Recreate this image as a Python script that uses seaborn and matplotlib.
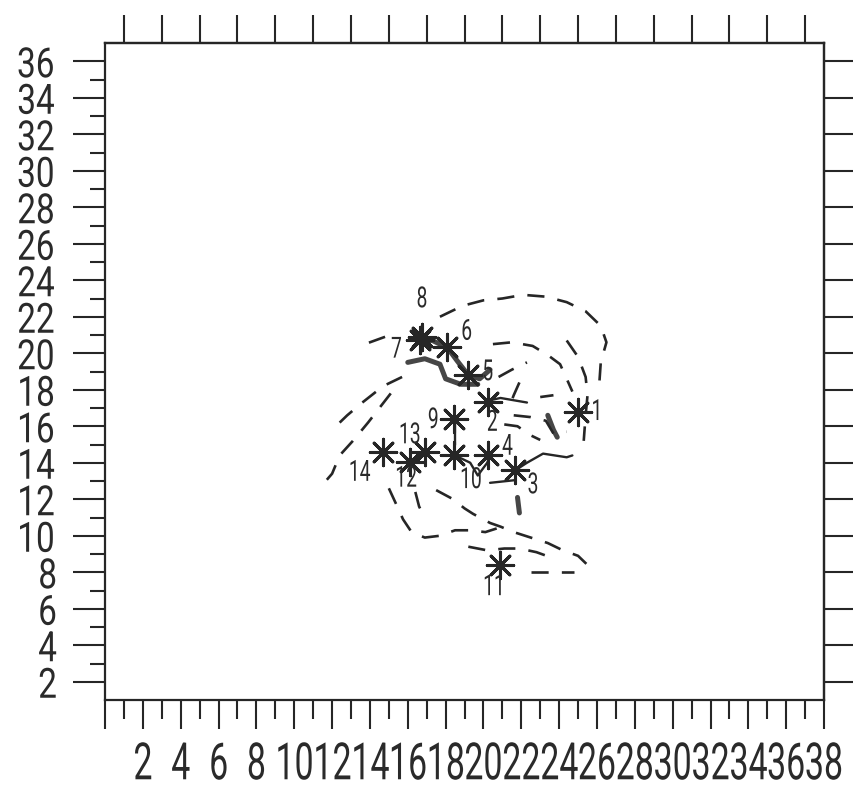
import matplotlib
matplotlib.use("Agg")
import matplotlib.pyplot as plt
import seaborn as sns
from matplotlib.patheffects import AbstractPathEffect
from matplotlib.transforms import Affine2D

# ---------------- data ----------------
station_ids = ["1", "2", "3", "4", "5", "6", "7", "8", "9", "10", "11", "12", "13", "14"]
station_x = [25.0, 20.24, 21.67, 20.24, 19.19, 18.08, 16.65, 16.75, 18.45, 18.45, 20.88, 16.12, 16.91, 14.69]
station_y = [16.78, 17.33, 13.60, 14.42, 18.81, 20.34, 20.73, 20.90, 16.40, 14.42, 8.40, 14.04, 14.59, 14.59]

# dashed streamlines
arc_a_x = [17.7, 18.9, 20.0, 21.0, 22.1, 23.3, 24.4, 25.4, 26.2, 26.5, 26.2, 26.1]
arc_a_y = [22.0, 22.6, 22.9, 23.0, 23.2, 23.1, 22.8, 22.3, 21.5, 20.6, 19.5, 18.0]
arc_b_x = [14.8, 13.6]
arc_b_y = [20.9, 20.45]
arc_c1_x = [15.7, 14.7, 13.6, 12.8, 12.2]
arc_c1_y = [18.7, 18.2, 17.3, 16.6, 16.0]
arc_c2_x = [15.1, 14.5, 13.9, 13.1, 12.4, 12.0, 11.5]
arc_c2_y = [17.8, 17.0, 16.2, 15.2, 14.4, 13.4, 12.8]
arc_d_x = [15.0, 15.4, 15.75, 16.2, 16.9, 17.7, 18.5, 19.3, 20.1, 20.7]
arc_d_y = [12.6, 11.7, 10.9, 10.2, 9.9, 10.0, 10.3, 10.3, 10.2, 10.4]
arc_e_x = [16.4, 16.6, 16.9]
arc_e_y = [12.4, 11.6, 11.0]
arc_f_x = [17.5, 18.4, 19.0, 19.45, 20.35, 20.9, 21.6, 22.5, 23.4, 24.2, 25.0, 25.5, 25.4]
arc_f_y = [12.5, 12.0, 11.5, 11.2, 10.7, 10.5, 10.2, 9.9, 9.6, 9.2, 8.9, 8.4, 7.85]
arc_g_x = [19.2, 20.2, 21.1, 21.9, 22.8, 23.6]
arc_g_y = [9.4, 9.2, 9.3, 9.3, 9.1, 8.8]
arc_h_x = [22.5, 23.9, 24.8]
arc_h_y = [8.0, 8.0, 8.0]
arc_i_x = [20.5, 21.5, 22.6, 23.4, 24.05, 24.4, 24.7]
arc_i_y = [20.5, 20.6, 20.4, 19.9, 19.4, 18.6, 17.9]
arc_j_x = [24.4, 25.0, 25.4, 25.5, 25.4, 25.3]
arc_j_y = [20.7, 19.8, 18.7, 17.7, 16.6, 15.2]
arc_k_x = [20.8, 21.5, 22.3]
arc_k_y = [18.7, 19.1, 19.5]
arc_k2_x = [21.9, 21.6, 21.3]
arc_k2_y = [18.4, 17.7, 16.9]
arc_l_x = [23.0, 23.7]
arc_l_y = [17.6, 17.7]
arc_m_x = [21.6, 22.5, 23.3, 23.7, 24.4]
arc_m_y = [16.6, 16.5, 16.3, 15.6, 15.7]
arc_n_x = [21.1, 21.8, 22.5, 23.0]
arc_n_y = [16.1, 16.0, 15.5, 15.25]

# thin solid connectors
link_1_x = [20.24, 20.9, 22.3]
link_1_y = [17.4, 17.55, 17.3]
link_2_x = [21.7, 22.3, 23.15, 24.4, 24.7]
link_2_y = [13.6, 14.0, 14.5, 14.3, 14.4]
link_3_x = [20.35, 21.7]
link_3_y = [12.9, 13.05]
link_4_x = [18.5, 19.3, 19.7, 20.2, 20.35]
link_4_y = [14.4, 14.0, 13.3, 14.0, 14.4]
link_5_x = [18.5, 18.5]
link_5_y = [16.1, 15.0]

# heavy scribbles
heavy_1_x = [16.65, 17.3, 18.1, 18.6, 19.2, 19.8, 20.35]
heavy_1_y = [20.7, 20.7, 20.3, 19.6, 18.8, 18.6, 19.1]
heavy_2_x = [16.0, 16.9, 17.7, 18.0, 18.8, 19.7]
heavy_2_y = [19.5, 19.7, 19.4, 18.6, 18.3, 18.3]
heavy_3_x = [21.8, 21.9]
heavy_3_y = [12.1, 11.25]
heavy_4_x = [23.4, 23.7, 23.9]
heavy_4_y = [16.6, 15.8, 15.4]

x_tick_values = list(range(0, 39, 2))
x_tick_labels = [""] + [str(v) for v in range(2, 39, 2)]
y_tick_values = list(range(2, 37, 2))
y_tick_labels = [str(v) for v in y_tick_values]

# ---------------- styling ----------------
INK = "#262626"
TXT = "#2a2a2a"
# label offsets (points) relative to each station
label_offsets = {
    "1": (14, 0), "2": (3, -15), "3": (13, -11), "4": (14, 6), "5": (14, 2),
    "6": (14, 11), "7": (-17, -7), "8": (0, 27), "9": (-15, -1), "10": (12, -18),
    "11": (-4, -16), "12": (-3, -12), "13": (-11, 12), "14": (-17, -15),
}


class Narrow(AbstractPathEffect):
    """Horizontally condense glyphs about their centre (plotter-font look)."""

    def __init__(self, sx=0.65):
        super().__init__()
        self.sx = sx

    def draw_path(self, renderer, gc, tpath, affine, rgbFace=None):
        ext = tpath.get_extents()
        cx = 0.5 * (ext.x0 + ext.x1)
        t = Affine2D().translate(-cx, 0).scale(self.sx, 1).translate(cx, 0) + affine
        renderer.draw_path(gc, tpath, t, rgbFace)


sns.set_style("ticks")
plt.rcParams["font.family"] = ["Roboto", "DejaVu Sans"]

fig = plt.figure(figsize=(8.54, 7.89), dpi=100)
ax = fig.add_axes([0.1230, 0.1128, 0.8419, 0.8327])

dash = (0, (6.5, 5))
dashed = [
    (arc_a_x, arc_a_y), (arc_b_x, arc_b_y), (arc_c1_x, arc_c1_y), (arc_c2_x, arc_c2_y),
    (arc_d_x, arc_d_y), (arc_e_x, arc_e_y), (arc_f_x, arc_f_y), (arc_g_x, arc_g_y),
    (arc_h_x, arc_h_y), (arc_i_x, arc_i_y), (arc_j_x, arc_j_y), (arc_k_x, arc_k_y),
    (arc_k2_x, arc_k2_y), (arc_l_x, arc_l_y), (arc_m_x, arc_m_y), (arc_n_x, arc_n_y),
]
for xs, ys in dashed:
    sns.lineplot(x=xs, y=ys, sort=False, estimator=None, color=INK,
                 linewidth=1.9, linestyle=dash, ax=ax)

for xs, ys in [(link_1_x, link_1_y), (link_2_x, link_2_y), (link_3_x, link_3_y),
               (link_4_x, link_4_y), (link_5_x, link_5_y)]:
    sns.lineplot(x=xs, y=ys, sort=False, estimator=None, color=INK,
                 linewidth=1.7, ax=ax)

for xs, ys in [(heavy_1_x, heavy_1_y), (heavy_2_x, heavy_2_y),
               (heavy_3_x, heavy_3_y), (heavy_4_x, heavy_4_y)]:
    sns.lineplot(x=xs, y=ys, sort=False, estimator=None, color=INK,
                 linewidth=3.6, alpha=0.85, ax=ax)

sns.scatterplot(x=station_x, y=station_y, marker=(8, 2, 0), s=360,
                color=INK, linewidth=2.2, ax=ax, zorder=5)
sns.scatterplot(x=station_x, y=station_y, marker="o", s=50,
                color=INK, linewidth=0, ax=ax, zorder=6)

for sid, sx, sy in zip(station_ids, station_x, station_y):
    dx, dy = label_offsets[sid]
    t = ax.annotate(sid, (sx, sy), xytext=(dx, dy), textcoords="offset points",
                    ha="center", va="center", fontsize=21, color=TXT,
                    fontweight="normal", zorder=7)
    t.set_path_effects([Narrow(0.66)])

ax.set_xlim(0, 38)
ax.set_ylim(1, 37)

ax.set_xticks(x_tick_values, labels=x_tick_labels)
ax.set_xticks(list(range(1, 38, 2)), minor=True)
ax.set_yticks(y_tick_values, labels=y_tick_labels)
ax.set_yticks(list(range(3, 36, 2)), minor=True)

ax.tick_params(axis="x", which="major", direction="out", length=21, width=1.5,
               color=INK, labelsize=37, labelcolor=TXT, pad=8)
ax.tick_params(axis="x", which="minor", direction="out", length=14, width=1.5, color=INK)
ax.tick_params(axis="y", which="major", direction="out", length=23, width=1.5,
               color=INK, labelsize=30, labelcolor=TXT, pad=10)
ax.tick_params(axis="y", which="minor", direction="out", length=11, width=1.5, color=INK)

for lab in ax.get_xticklabels():
    lab.set_fontweight("normal")
    lab.set_path_effects([Narrow(0.66)])
for lab in ax.get_yticklabels():
    lab.set_fontweight("normal")
    lab.set_path_effects([Narrow(0.8)])

for sp in ax.spines.values():
    sp.set_color(INK)
    sp.set_linewidth(1.6)

top = ax.secondary_xaxis("top")
top.set_xticks(list(range(1, 38, 2)), labels=[""] * 19)
top.tick_params(direction="out", length=20, width=1.5, color=INK)
top.spines["top"].set_color(INK)
top.spines["top"].set_linewidth(1.6)

right = ax.secondary_yaxis("right")
right.set_yticks(y_tick_values, labels=[""] * len(y_tick_values))
right.tick_params(direction="out", length=21, width=1.5, color=INK)
right.spines["right"].set_color(INK)
right.spines["right"].set_linewidth(1.6)

ax.set_xlabel("")
ax.set_ylabel("")

fig.savefig("out.png", dpi=100)
